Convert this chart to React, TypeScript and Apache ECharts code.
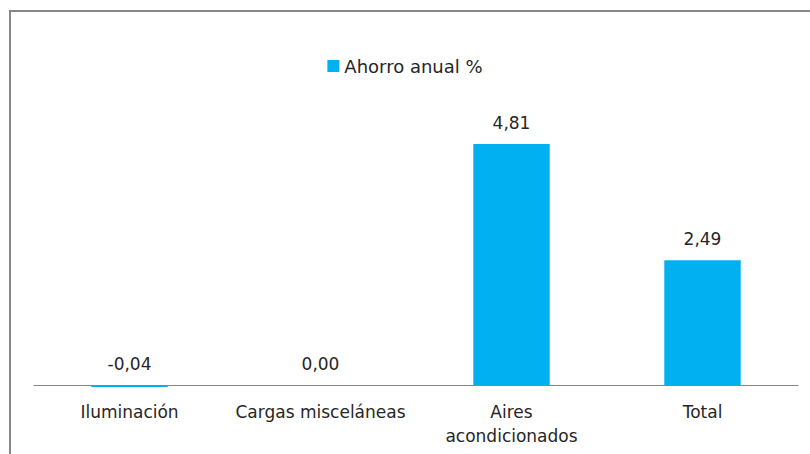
import React, { useEffect, useRef } from "react";
import * as echarts from "echarts";

const categories = ["Iluminación", "Cargas misceláneas", "Aires\nacondicionados", "Total"];
const savings = [-0.04, 0.0, 4.81, 2.49];
const seriesName = "Ahorro anual %";

export default function App() {
  const ref = useRef<HTMLDivElement>(null);
  useEffect(() => {
    if (!ref.current) return;
    const chart = echarts.init(ref.current, undefined, { renderer: "svg" });
    const font = "'DejaVu Sans', sans-serif";
    chart.setOption({
      animation: false,
      backgroundColor: "#ffffff",
      textStyle: { fontFamily: font },
      graphic: [
        {
          type: "rect",
          shape: { x: 10, y: 11, width: 820, height: 470 },
          style: { fill: "none", stroke: "#878787", lineWidth: 2 },
          silent: true,
        },
      ],
      legend: {
        show: true,
        top: 52,
        left: "center",
        itemWidth: 12,
        itemHeight: 12,
        itemGap: 6,
        icon: "rect",
        textStyle: { fontFamily: font, fontSize: 18, color: "#262626" },
        data: [seriesName],
      },
      grid: { left: 34, right: 12, top: 84.4, height: 300.6, containLabel: false, outerBoundsMode: "none" },
      xAxis: {
        type: "category",
        data: categories,
        axisLine: { onZero: false, lineStyle: { color: "#868686", width: 1 } },
        axisTick: { show: false },
        axisLabel: {
          fontFamily: font,
          fontSize: 17,
          color: "#262626",
          margin: 15,
          lineHeight: 24,
          interval: 0,
        },
      },
      yAxis: {
        type: "value",
        min: 0,
        max: 6,
        show: false,
        splitLine: { show: false },
      },
      series: [
        {
          name: seriesName,
          type: "bar",
          data: savings,
          barWidth: "40%",
          clip: false,
          itemStyle: { color: "#00B0F0" },
          label: {
            show: true,
            position: "top",
            distance: 13,
            fontFamily: font,
            fontSize: 17,
            color: "#262626",
            formatter: (p: any) => Number(p.value).toFixed(2).replace(".", ","),
          },
        },
      ],
    });
    return () => chart.dispose();
  }, []);
  return (
    <div
      ref={ref}
      style={{ position: "fixed", left: 0, top: 0, width: 810, height: 454, background: "#fff" }}
    />
  );
}
